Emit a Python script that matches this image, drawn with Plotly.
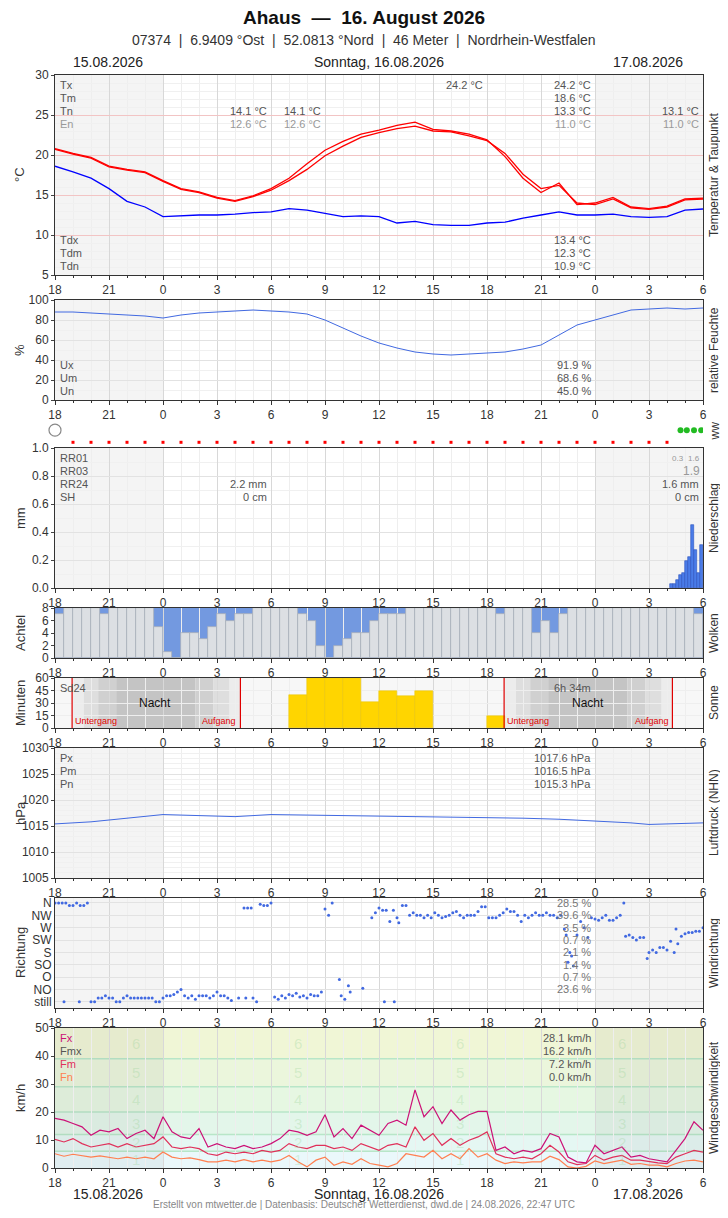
import plotly.graph_objects as go

# time axis: hours since 15.08. 18:00
hours = list(range(37))
half = [i * 0.5 for i in range(73)]
tick_labels = ["18", "21", "0", "3", "6", "9", "12", "15", "18", "21", "0", "3", "6"]

# temperature (two red lines) and dew point
temp_a = [20.8, 20.2, 19.7, 18.6, 18.2, 17.9, 16.8, 15.8, 15.4, 14.7, 14.3, 14.9, 15.8,
          17.1, 18.9, 20.6, 21.7, 22.6, 23.1, 23.7, 24.1, 23.2, 23.0, 22.6, 21.9, 19.8,
          17.1, 15.3, 16.5, 13.8, 14.0, 14.7, 13.5, 13.3, 13.6, 14.5, 14.6]
temp_b = [20.7, 20.1, 19.6, 18.5, 18.1, 17.8, 16.7, 15.7, 15.3, 14.6, 14.2, 14.8, 15.6,
          16.8, 18.2, 19.9, 21.1, 22.2, 22.8, 23.3, 23.6, 23.0, 22.9, 22.4, 21.8, 20.2,
          17.6, 15.8, 16.2, 14.0, 13.8, 14.5, 13.4, 13.2, 13.5, 14.4, 14.5]
dew = [18.6, 17.9, 17.1, 15.8, 14.2, 13.5, 12.3, 12.4, 12.5, 12.5, 12.6, 12.8, 12.9,
       13.3, 13.1, 12.7, 12.3, 12.4, 12.3, 11.5, 11.7, 11.3, 11.2, 11.2, 11.5, 11.6,
       12.1, 12.5, 12.9, 12.5, 12.5, 12.6, 12.3, 12.2, 12.3, 13.1, 13.25]

humidity = [88, 88, 87, 86, 85, 84, 82, 85, 87, 88, 89, 90, 89, 88, 86, 80, 72, 64, 57,
            52, 48, 46, 45, 46, 47, 48, 51, 55, 65, 75, 80, 85, 90, 91, 92, 91, 92]

# precipitation, 10-minute sums
rain_t = [34.25, 34.42, 34.58, 34.75, 34.92, 35.08, 35.25, 35.42, 35.58, 35.75, 35.92]
rain_v = [0.03, 0.03, 0.06, 0.09, 0.11, 0.19, 0.22, 0.45, 0.27, 0.11, 0.31]

# cloud cover in octas, 30-minute steps
clouds = [7, 8, 8, 8, 8, 7, 8, 8, 8, 8, 8, 5, 1, 0, 4, 4, 3, 5, 7, 6, 7, 7, 8, 8, 8, 8, 8,
          7, 6, 2, 0, 2, 3, 4, 4, 6, 7, 7, 7, 8, 8, 8, 8, 8, 8, 8, 8, 8, 8, 7, 8, 8, 8, 4,
          6, 4, 7, 8, 8, 8, 8, 8, 8, 8, 8, 8, 8, 8, 8, 8, 8, 7]

# sunshine minutes per hour
sun_t = [13.5, 14.5, 15.5, 16.5, 17.5, 18.5, 19.5, 20.5, 24.5]
sun_v = [40, 60, 60, 60, 31, 44, 39, 45, 15]
sunset = [0.95, 24.95]
sunrise = [10.3, 34.3]

pres_t = [0, 2, 4, 6, 8, 10, 12, 14, 16, 18, 20, 22, 24, 26, 28, 30, 32, 33, 34, 36]
pres_v = [1015.4, 1015.8, 1016.5, 1017.2, 1017.0, 1016.8, 1017.2, 1017.1, 1017.0, 1016.9,
          1016.9, 1016.7, 1016.6, 1016.5, 1016.3, 1016.0, 1015.6, 1015.3, 1015.4, 1015.6]

# wind direction (0=still ... 8=N)
dir_labels = ["still", "NO", "O", "SO", "S", "SW", "W", "NW", "N"]
dir_pct = ["23.6 %", "0.7 %", "1.4 %", "2.1 %", "0.7 %", "3.5 %", "39.6 %", "28.5 %"]
dir_t = [0, 0.2, 0.4, 0.6, 0.8, 1.0, 1.2, 1.4, 1.6, 1.8, 0.5, 1.35,
         2.0, 2.2, 2.4, 2.6, 2.8, 3.0, 3.2, 3.4, 3.6, 3.8, 4.0, 4.2, 4.4, 4.6, 4.8, 5.0,
         5.2, 5.4, 5.6, 5.8, 6.0, 6.2, 6.4, 6.6, 6.8, 7.0, 7.2, 7.4, 7.6, 7.8, 8.0, 8.2,
         8.4, 8.6, 8.8, 9.0, 9.2, 9.4, 9.6, 9.8, 10.2, 10.6, 10.5, 10.7, 10.9, 11.0, 11.2,
         11.4, 11.6, 11.8, 12.0, 12.2, 12.4, 12.6, 12.8, 13.0, 13.2, 13.4, 13.6, 13.8,
         14.0, 14.2, 14.4, 14.6, 14.8, 15.0, 15.2, 15.4, 15.8, 15.9, 16.1, 16.3, 16.4,
         17.1, 17.6, 17.8, 18.0, 18.2, 18.4, 18.6, 18.8, 18.3, 18.85, 19.0, 19.1, 19.3,
         19.5, 19.7, 19.9, 20.1, 20.3, 20.5, 20.7, 20.9, 21.1, 21.3, 21.5, 21.7, 21.9,
         22.1, 22.3, 22.5, 22.7, 22.9, 23.1, 23.3, 23.5, 23.7, 23.9, 24.1, 24.3, 24.5,
         24.7, 24.9, 25.1, 25.3, 25.5, 25.7, 25.9, 26.1, 26.3, 26.5, 26.7, 26.9, 27.1,
         27.3, 27.5, 27.7, 27.9, 28.1, 28.3, 28.4, 28.6, 28.7, 28.5, 28.8, 29.0, 29.2,
         29.4, 29.6, 29.8, 30.0, 30.2, 30.4, 30.6, 30.8, 31.0, 31.2, 31.4, 31.6, 31.7,
         31.9, 32.1, 32.3, 32.5, 32.7, 32.9, 33.0, 33.2, 33.4, 33.6, 33.8, 34.0, 34.2,
         34.4, 34.5, 34.6, 34.8, 35.0, 35.2, 35.4, 35.6, 35.8, 36.0]
dir_v = [8, 8, 8, 8, 7.8, 7.8, 8, 7.8, 7.8, 8, 0, 0,
         0, 0, 0.3, 0.3, 0.5, 0.3, 0.3, 0, 0, 0.3, 0.5, 0.3, 0.3, 0.3, 0.3, 0.3,
         0.3, 0.3, 0, 0, 0.3, 0.5, 0.5, 0.6, 0.8, 1.0, 0.5, 0.3, 0.5, 0.2, 0.5, 0.5,
         0.5, 0.3, 0.5, 0.8, 0.5, 0.5, 0.3, 0.1, 0.3, 0.3, 7.6, 7.6, 7.6, 0.3, 0,
         7.9, 7.8, 7.8, 8.0, 0.4, 0.2, 0.5, 0.3, 0.6, 0.5, 0.7, 0.4, 0.5,
         0.3, 0.6, 0.5, 0.5, 0.8, 7.5, 7.0, 8.0, 1.8, 0.5, 0.2, 1.3, 0.8,
         1.1, 6.8, 7.2, 7.6, 7.4, 7.4, 6.5, 7.4, 0, 0, 6.8, 6.4, 7.8,
         7.8, 7.0, 7.2, 7.0, 7.0, 6.8, 7.0, 6.8, 7.2, 7.0, 6.8, 6.9, 7.0,
         7.2, 7.3, 7.0, 6.8, 7.0, 7.0, 7.0, 7.3, 7.7, 7.7, 6.8, 6.8, 6.8,
         7.0, 7.2, 7.5, 7.3, 7.3, 7.0, 6.5, 7.0, 6.8, 7.0, 7.2, 7.0, 7.0,
         7.2, 7.0, 7.0, 6.8, 7.0, 5.9, 5.4, 4.0, 3.7, 3.2, 2.9, 5.4, 6.5,
         6.0, 5.2, 6.8, 6.7, 6.6, 6.8, 7.0, 6.6, 6.6, 6.8, 7.0, 8.0, 5.3,
         5.4, 5.2, 5.0, 5.2, 5.2, 3.5, 4.0, 4.2, 4.0, 4.4, 4.4, 4.2, 4.9,
         4.0, 5.9, 4.7, 5.3, 5.5, 5.6, 5.6, 5.7, 5.7, 6.0]

# wind speed km/h, 30-minute steps
fx = [17.7, 17.1, 15.9, 14.7, 11.7, 13.5, 12.9, 14.1, 10.5, 12.3, 13.5, 10.5, 18.3, 12.9,
      11.1, 10.5, 14.1, 7.5, 8.7, 7.5, 6.9, 8.1, 6.9, 7.5, 8.7, 10.5, 13.5, 12.9, 11.7,
      12.9, 19.0, 11.1, 14.1, 10.5, 15.3, 13.5, 11.7, 15.9, 17.1, 15.3, 27.9, 18.3, 21.9,
      15.9, 20.7, 17.1, 19.0, 20.2, 20.2, 6.3, 7.5, 5.1, 6.3, 5.7, 6.9, 12.3, 11.1, 3.9,
      2.2, 1.8, 8.1, 5.1, 6.3, 7.5, 3.9, 4.5, 3.3, 2.8, 2.2, 6.3, 10.5, 16.5, 13.5]
fm = [10.2, 9.3, 10.5, 8.7, 7.5, 8.1, 8.7, 7.5, 8.7, 7.5, 8.1, 8.7, 11.1, 7.5, 6.9, 7.5,
      6.9, 5.1, 4.5, 5.7, 5.1, 5.7, 5.1, 6.3, 5.7, 6.3, 8.7, 7.5, 6.9, 8.1, 8.1, 6.9, 7.5,
      6.3, 8.7, 7.5, 6.3, 8.1, 8.7, 7.5, 14.7, 9.9, 12.3, 8.1, 10.5, 8.1, 9.9, 11.1, 12.9,
      5.1, 3.9, 3.3, 3.9, 3.3, 5.1, 8.1, 5.7, 2.2, 1.2, 1.6, 4.5, 2.8, 3.9, 4.5, 2.8, 2.8,
      2.2, 1.8, 1.6, 3.9, 5.1, 6.3, 5.7]
fn = [5.1, 4.2, 4.9, 4.5, 3.9, 4.3, 3.9, 3.3, 3.9, 3.3, 3.9, 3.3, 5.7, 3.9, 3.3, 3.6, 3.0,
      2.2, 2.2, 2.8, 2.2, 3.0, 2.2, 2.8, 2.2, 2.8, 4.5, 2.2, 0.4, 2.8, 3.9, 1.0, 2.2, 1.3,
      3.3, 1.6, 1.0, 0.4, 1.6, 5.1, 4.5, 3.9, 6.3, 3.3, 5.1, 3.3, 6.9, 3.9, 5.1, 2.8, 1.6,
      2.2, 1.8, 2.2, 2.2, 4.2, 3.0, 0.4, 0.0, 0.6, 2.5, 1.6, 2.2, 2.8, 1.3, 1.6, 1.0, 1.0,
      0.4, 1.6, 2.5, 2.8, 2.2]

# Beaufort bands km/h
bft_edges = [1, 6, 12, 20, 29, 39, 50]
bft_cols = ["#eaf8fb", "#e5f7f3", "#e3f6ea", "#e6f7e2", "#ebf6dc", "#f0f6d6"]

ww_t = [h for h in range(1, 35)]
ww_rain_t = [34.75, 35.1, 35.5, 35.9]

# the page adds an 8 px body margin around the figure
OFF = 8
W, H = 728 - 2 * OFF, 1218 - 2 * OFF
L, R = 55, 703  # plot area in window pixels
FONT = "Liberation Sans"


def py(px):
    return 1 - (px - OFF) / H


def pxx(px):
    return (px - L) / (R - L)


def X(k):
    return "x" if k == 1 else f"x{k}"


def Y(k):
    return "y" if k == 1 else f"y{k}"


panels = {  # axis index: (top px, bottom px) in window pixels
    1: (75, 275), 2: (300, 400), 3: (418, 445), 4: (448, 588), 5: (608, 658),
    6: (678, 728), 7: (748, 878), 8: (898, 1008), 9: (1028, 1168),
}

fig = go.Figure()
layout = dict(width=W, height=H, margin=dict(l=L - OFF, r=728 - OFF - R, t=0, b=0),
              paper_bgcolor="white", plot_bgcolor="rgba(0,0,0,0)", showlegend=False,
              font=dict(family=FONT, size=12, color="#333"), bargap=0, barmode="overlay")

for k, (top, bot) in panels.items():
    hidden = k == 3
    xa = "xaxis" if k == 1 else f"xaxis{k}"
    ya = "yaxis" if k == 1 else f"yaxis{k}"
    layout[xa] = dict(
        domain=[0, 1], range=[0, 36], anchor=Y(k), tickvals=list(range(0, 37, 3)),
        ticktext=tick_labels, showgrid=not hidden, gridcolor="#d8d8d8", ticks="outside",
        ticklen=4, tickcolor="#333", showline=not hidden, linecolor="#333", mirror=True,
        visible=not hidden, zeroline=False, tickfont=dict(size=12), automargin=False,
        minor=dict(dtick=1, showgrid=True, gridcolor="#eeeeee", ticks="outside",
                   ticklen=2, tickcolor="#333"))
    layout[ya] = dict(
        domain=[py(bot), py(top)], anchor=X(k), showgrid=True, gridcolor="#e2e2e2",
        showline=not hidden, linecolor="#333", mirror=True, zeroline=False, ticks="outside",
        ticklen=3, visible=not hidden, tickfont=dict(size=12), automargin=False)

layout["yaxis"].update(range=[5, 30], dtick=5, gridcolor="#f2c4c4",
                       minor=dict(dtick=1, showgrid=True, gridcolor="#f0f0f0"))
layout["yaxis2"].update(range=[0, 100], dtick=20,
                        minor=dict(dtick=10, showgrid=True, gridcolor="#f0f0f0"))
layout["yaxis3"].update(range=[0, 1])
layout["yaxis4"].update(range=[0, 1.0], dtick=0.2, tickformat=".1f",
                        minor=dict(dtick=0.1, showgrid=True, gridcolor="#f0f0f0"))
layout["yaxis5"].update(range=[0, 8], dtick=2, showgrid=False)
layout["yaxis6"].update(range=[0, 60], dtick=15, gridcolor="#eeeeee")
layout["yaxis7"].update(range=[1005, 1030], dtick=5,
                        minor=dict(dtick=1, showgrid=True, gridcolor="#f0f0f0"))
layout["yaxis8"].update(range=[-0.5, 8.4], tickvals=list(range(9)), ticktext=dir_labels,
                        ticklen=0)
layout["yaxis9"].update(range=[0, 50], dtick=10, gridcolor="rgba(0,0,0,0)")

shapes = []
annotations = []


def txt(x, y, s, anchor="left", color="#555", size=11, **kw):
    annotations.append(dict(x=pxx(x), y=py(y), xref="paper", yref="paper", text=s,
                            showarrow=False, xanchor=anchor, yanchor="middle",
                            font=dict(color=color, size=size, family=FONT), **kw))


# night background
for k in [1, 2, 4, 7, 8, 9]:
    for x0, x1 in [(0, 6), (30, 36)]:
        shapes.append(dict(type="rect", xref=X(k), yref=f"{Y(k)} domain", x0=x0, x1=x1,
                           y0=0, y1=1, fillcolor="#f4f4f4", line_width=0, layer="below"))

# wind Beaufort bands
for i, c in enumerate(bft_cols):
    shapes.append(dict(type="rect", xref="x9 domain", yref="y9", x0=0, x1=1,
                       y0=0 if i == 0 else bft_edges[i], y1=bft_edges[i + 1],
                       fillcolor=c, line_width=0, layer="below"))
for e in bft_edges[1:-1]:
    shapes.append(dict(type="line", xref="x9 domain", yref="y9", x0=0, x1=1, y0=e, y1=e,
                       line=dict(color="#b8e6c8", width=1.5), layer="below"))
for x0, x1 in [(0, 6), (30, 36)]:
    shapes.append(dict(type="rect", xref="x9", yref="y9 domain", x0=x0, x1=x1, y0=0, y1=1,
                       fillcolor="rgba(120,120,120,0.08)", line_width=0, layer="below"))
for col in [4.5, 13.5, 22.5, 31.5]:
    for b in range(6):
        lo = 0 if b == 0 else bft_edges[b]
        annotations.append(dict(x=col, y=(lo + bft_edges[b + 1]) / 2, xref="x9", yref="y9",
                                text=str(b + 1), showarrow=False,
                                font=dict(size=15, color="rgba(150,210,150,0.3)")))

# cloud panel blue sky background
shapes.append(dict(type="rect", xref="x5", yref="y5", x0=0, x1=36, y0=0, y1=8,
                   fillcolor="#7399e0", line_width=0, layer="below"))

# sun panel night gradient
shades = [(0.0, 0.65, "#ececec"), (0.65, 1.45, "#dedede"), (1.45, 2.45, "#d0d0d0"),
          (2.45, 6.85, "#c4c4c4"), (6.85, 7.85, "#d0d0d0"), (7.85, 8.75, "#dedede"),
          (8.75, 9.35, "#ececec")]
shapes.append(dict(type="rect", xref="x6", yref="y6 domain", x0=0, x1=36, y0=0, y1=1,
                   fillcolor="#f7f7f7", line_width=0, layer="below"))
for s0, r0 in zip(sunset, sunrise):
    for a, b, c in shades:
        shapes.append(dict(type="rect", xref="x6", yref="y6 domain", x0=s0 + a,
                           x1=min(s0 + b, r0), y0=0, y1=1, fillcolor=c, line_width=0,
                           layer="below"))
    for xv in (s0, r0):
        shapes.append(dict(type="line", xref="x6", yref="y6 domain", x0=xv, x1=xv, y0=0,
                           y1=1, line=dict(color="#e00000", width=1.2)))

# traces
fig.add_trace(go.Scatter(x=hours, y=temp_a, mode="lines", line=dict(color="#ff0000", width=1.3),
                         xaxis="x", yaxis="y"))
fig.add_trace(go.Scatter(x=hours, y=temp_b, mode="lines", line=dict(color="#ff0000", width=1.3),
                         xaxis="x", yaxis="y"))
fig.add_trace(go.Scatter(x=hours, y=dew, mode="lines", line=dict(color="#0000ff", width=1.3),
                         xaxis="x", yaxis="y"))
fig.add_trace(go.Scatter(x=hours, y=humidity, mode="lines", line=dict(color="#4169e1", width=1),
                         xaxis="x2", yaxis="y2"))
fig.add_trace(go.Scatter(x=ww_t, y=[0.1] * len(ww_t), mode="markers",
                         marker=dict(color="#ff0000", size=3, symbol="square"),
                         xaxis="x3", yaxis="y3"))
fig.add_trace(go.Scatter(x=ww_rain_t, y=[0.55] * len(ww_rain_t), mode="markers",
                         marker=dict(color="#22bb22", size=6), xaxis="x3", yaxis="y3"))
fig.add_trace(go.Scatter(x=[0], y=[0.55], mode="markers", cliponaxis=False,
                         marker=dict(color="white", size=12, line=dict(color="#888", width=1.2)),
                         xaxis="x3", yaxis="y3"))
fig.add_trace(go.Bar(x=rain_t, y=rain_v, width=0.16, marker=dict(color="#4a7be8",
                     line=dict(color="#2a50c0", width=0.6)), xaxis="x4", yaxis="y4"))
fig.add_trace(go.Bar(x=[h + 0.25 for h in half[:72]], y=clouds, width=0.5,
                     marker=dict(color="#dcdfe3", line=dict(color="#a8adb4", width=0.7)),
                     xaxis="x5", yaxis="y5"))
fig.add_trace(go.Bar(x=sun_t, y=sun_v, width=1, marker=dict(color="#ffd500",
                     line=dict(color="#e6c000", width=0.5)), xaxis="x6", yaxis="y6"))
fig.add_trace(go.Scatter(x=pres_t, y=pres_v, mode="lines", line=dict(color="#4169e1", width=1),
                         xaxis="x7", yaxis="y7"))
fig.add_trace(go.Scatter(x=dir_t, y=dir_v, mode="markers", marker=dict(color="#4169e1", size=3),
                         xaxis="x8", yaxis="y8"))
for series, col in [(fn, "#ff7f50"), (fm, "#e0305a"), (fx, "#cc1177")]:
    fig.add_trace(go.Scatter(x=half, y=series, mode="lines", line=dict(color=col, width=1.2),
                             xaxis="x9", yaxis="y9"))

# header / footer
txt(364, 18, "<b>Ahaus  —  16. August 2026</b>", "center", "#111", 19)
txt(364, 40, "07374  |  6.9409 °Ost  |  52.0813 °Nord  |  46 Meter  |  Nordrhein-Westfalen",
    "center", "#333", 14)
for yy in (62, 1194):
    txt(108, yy, "15.08.2026", "center", "#222", 14)
    txt(379, yy, "Sonntag, 16.08.2026", "center", "#222", 14)
    txt(648, yy, "17.08.2026", "center", "#222", 14)
txt(364, 1204, "Erstellt von mtwetter.de | Datenbasis: Deutscher Wetterdienst, dwd.de | "
    "24.08.2026, 22:47 UTC", "center", "#888", 10)

# axis titles
for (t, b), name in [((75, 275), "°C"), ((300, 400), "%"), ((448, 588), "mm"),
                     ((608, 658), "Achtel"), ((678, 728), "Minuten"),
                     ((748, 878), "hPa"), ((898, 1008), "Richtung"),
                     ((1028, 1168), "km/h")]:
    txt(20, (t + b) / 2, name, "center", "#333", 13, textangle=-90)
for (t, b), name in [((75, 275), "Temperatur & Taupunkt"), ((300, 400), "relative Feuchte"),
                     ((418, 445), "ww"), ((448, 588), "Niederschlag"), ((608, 658), "Wolken"),
                     ((678, 728), "Sonne"), ((748, 878), "Luftdruck (NHN)"),
                     ((898, 1008), "Windrichtung"), ((1028, 1168), "Windgeschwindigkeit")]:
    txt(714, (t + b) / 2, name, "center", "#333", 12, textangle=-90)

# panel texts
for i, (lab, c) in enumerate([("Tx", "#555"), ("Tm", "#555"), ("Tn", "#555"), ("En", "#999")]):
    txt(58, 85 + 13 * i, lab, "left", c)
txt(485, 85, "24.2 °C", "right")
for i, (v, c) in enumerate([("24.2 °C", "#555"), ("18.6 °C", "#555"), ("13.3 °C", "#555"),
                            ("11.0 °C", "#999")]):
    txt(593, 85 + 13 * i, v, "right", c)
for xe in (269, 323):
    txt(xe, 111, "14.1 °C", "right")
    txt(xe, 124, "12.6 °C", "right", "#999")
txt(701, 111, "13.1 °C", "right")
txt(701, 124, "11.0 °C", "right", "#999")
for i, (lab, v) in enumerate([("Tdx", "13.4 °C"), ("Tdm", "12.3 °C"), ("Tdn", "10.9 °C")]):
    txt(58, 240 + 13 * i, lab)
    txt(593, 240 + 13 * i, v, "right")
for i, (lab, v) in enumerate([("Ux", "91.9 %"), ("Um", "68.6 %"), ("Un", "45.0 %")]):
    txt(58, 365 + 13 * i, lab)
    txt(593, 365 + 13 * i, v, "right")
for i, lab in enumerate(["RR01", "RR03", "RR24", "SH"]):
    txt(58, 458 + 13 * i, lab)
txt(269, 484, "2.2 mm", "right")
txt(269, 497, "0 cm", "right")
txt(686, 458, "0.3", "right", "#999", 8)
txt(702, 458, "1.6", "right", "#999", 8)
txt(702, 471, "1.9", "right", "#999", 12)
txt(701, 484, "1.6 mm", "right")
txt(701, 497, "0 cm", "right")
txt(58, 688, "Sd24")
txt(593, 688, "6h 34m", "right")
for xn, (xu, xa) in zip((155, 588), ((73, 238), (505, 671))):
    txt(xn, 703, "Nacht", "center", "#111", 12)
    txt(xu, 721, "Untergang", "left", "#e00000", 9)
    txt(xa, 721, "Aufgang", "right", "#e00000", 9)
for i, (lab, v) in enumerate([("Px", "1017.6 hPa"), ("Pm", "1016.5 hPa"), ("Pn", "1015.3 hPa")]):
    txt(58, 758 + 13 * i, lab)
    txt(593, 758 + 13 * i, v, "right")
for i, p in enumerate(dir_pct):
    annotations.append(dict(x=pxx(593), xref="paper", y=i + 1, yref="y8", text=p,
                            showarrow=False, xanchor="right",
                            font=dict(color="#777", size=11, family=FONT)))
for i, (lab, c, v) in enumerate([("Fx", "#cc1177", "28.1 km/h"), ("Fmx", "#555", "16.2 km/h"),
                                 ("Fm", "#e0305a", "7.2 km/h"), ("Fn", "#ff7f50", "0.0 km/h")]):
    txt(58, 1038 + 13 * i, lab, "left", c)
    txt(593, 1038 + 13 * i, v, "right")

layout["shapes"] = shapes
layout["annotations"] = annotations
fig.update_layout(**layout)
fig.write_html("out.html")
